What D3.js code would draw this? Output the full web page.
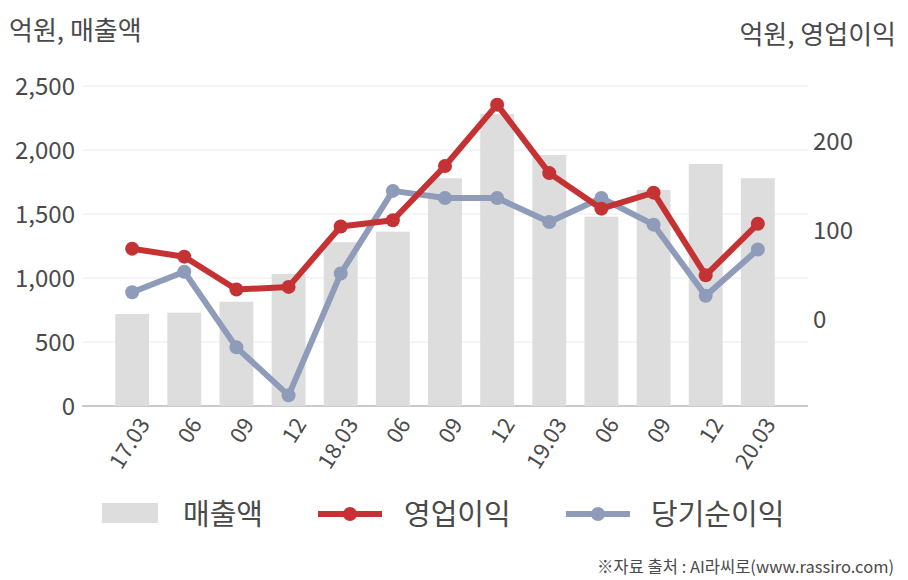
<!DOCTYPE html>
<html>
<head>
<meta charset="utf-8">
<script src="https://cdn.jsdelivr.net/npm/d3@7"></script>
<style>
  body { margin: 0; background: #fff; }
  svg text { font-family: "Noto Sans CJK KR", "Noto Sans", sans-serif; fill: #4a4a4a; }
</style>
</head>
<body>
<svg id="chart" width="908" height="580"></svg>
<script>
// quarterly values
const quarters = ['17.03', '06', '09', '12', '18.03', '06', '09', '12', '19.03', '06', '09', '12', '20.03'];
const sales = [719, 729, 815, 1031, 1279, 1362, 1779, 2280, 1961, 1479, 1688, 1891, 1779];
const opProfit = [77, 68, 31, 34, 102, 109, 170, 239, 162, 122, 140, 47, 105];
const netIncome = [28, 51, -34, -88, 49, 142, 134, 134, 107, 134, 104, 24, 76];
const leftTicks = [0, 500, 1000, 1500, 2000, 2500];
const rightTicks = [0, 100, 200];

const red = '#c53234';
const blue = '#8e9cb9';
const barColor = '#dddddd';

const svg = d3.select('#chart');

// x positions: one band per quarter
const x = d3.scaleBand()
    .domain(d3.range(quarters.length))
    .range([82, 808])
    .paddingInner(0.35)
    .paddingOuter(0.637);

const yLeft = d3.scaleLinear().domain([0, 2500]).range([406, 86]);
const yRight = d3.scaleLinear().domain([-100, 260]).range([406, 86]);

// gridlines
svg.append('g')
    .selectAll('line')
    .data(leftTicks)
    .join('line')
    .attr('x1', 82).attr('x2', 808)
    .attr('y1', d => yLeft(d)).attr('y2', d => yLeft(d))
    .attr('stroke', d => d === 0 ? '#b8b8b8' : '#ebebeb')
    .attr('stroke-width', d => d === 0 ? 1.5 : 1);

// left axis labels
svg.append('g')
    .selectAll('text')
    .data(leftTicks)
    .join('text')
    .attr('x', 75)
    .attr('y', d => yLeft(d))
    .attr('dy', '0.36em')
    .attr('text-anchor', 'end')
    .style('font-size', '24px')
    .text(d => d3.format(',')(d));

// right axis labels
svg.append('g')
    .selectAll('text')
    .data(rightTicks)
    .join('text')
    .attr('x', 813)
    .attr('y', d => yRight(d))
    .attr('dy', '0.45em')
    .attr('text-anchor', 'start')
    .style('font-size', '24px')
    .text(d => d);

// axis titles
svg.append('text').attr('x', 9).attr('y', 40)
    .style('font-size', '26px').text('억원, 매출액');
svg.append('text').attr('x', 896).attr('y', 44)
    .attr('text-anchor', 'end')
    .style('font-size', '26px').text('억원, 영업이익');

// sales bars
svg.append('g')
    .selectAll('rect')
    .data(sales)
    .join('rect')
    .attr('x', (d, i) => x(i))
    .attr('width', x.bandwidth())
    .attr('y', d => yLeft(d))
    .attr('height', d => yLeft(0) - yLeft(d))
    .attr('fill', barColor);

// x labels
svg.append('g')
    .selectAll('text')
    .data(quarters)
    .join('text')
    .attr('transform', (d, i) => `translate(${x(i) + x.bandwidth() / 2 + 12}, 420) rotate(-58)`)
    .attr('text-anchor', 'end')
    .attr('dy', '0.35em')
    .style('font-size', '22px')
    .text(d => d);

function drawSeries(values, color) {
    const line = d3.line()
        .x((d, i) => x(i) + x.bandwidth() / 2)
        .y(d => yRight(d));
    const g = svg.append('g');
    g.append('path')
        .datum(values)
        .attr('fill', 'none')
        .attr('stroke', color)
        .attr('stroke-width', 6)
        .attr('stroke-linejoin', 'round')
        .attr('d', line);
    g.selectAll('circle')
        .data(values)
        .join('circle')
        .attr('cx', (d, i) => x(i) + x.bandwidth() / 2)
        .attr('cy', d => yRight(d))
        .attr('r', 7)
        .attr('fill', color);
}

drawSeries(netIncome, blue);
drawSeries(opProfit, red);

// legend
const legend = svg.append('g');
legend.append('rect').attr('x', 102).attr('y', 503).attr('width', 56).attr('height', 20).attr('fill', barColor);
legend.append('text').attr('x', 183).attr('y', 525).style('font-size', '29px').text('매출액');

legend.append('line').attr('x1', 318).attr('x2', 382).attr('y1', 514).attr('y2', 514)
    .attr('stroke', red).attr('stroke-width', 6);
legend.append('circle').attr('cx', 350).attr('cy', 514).attr('r', 7).attr('fill', red);
legend.append('text').attr('x', 404).attr('y', 525).style('font-size', '29px').text('영업이익');

legend.append('line').attr('x1', 566).attr('x2', 630).attr('y1', 514).attr('y2', 514)
    .attr('stroke', blue).attr('stroke-width', 6);
legend.append('circle').attr('cx', 598).attr('cy', 514).attr('r', 7).attr('fill', blue);
legend.append('text').attr('x', 651).attr('y', 525).style('font-size', '29px').text('당기순이익');

// source note
svg.append('text').attr('x', 894).attr('y', 573)
    .attr('text-anchor', 'end')
    .style('font-size', '16.5px')
    .text('※자료 출처 : AI라씨로(www.rassiro.com)');
</script>
</body>
</html>
